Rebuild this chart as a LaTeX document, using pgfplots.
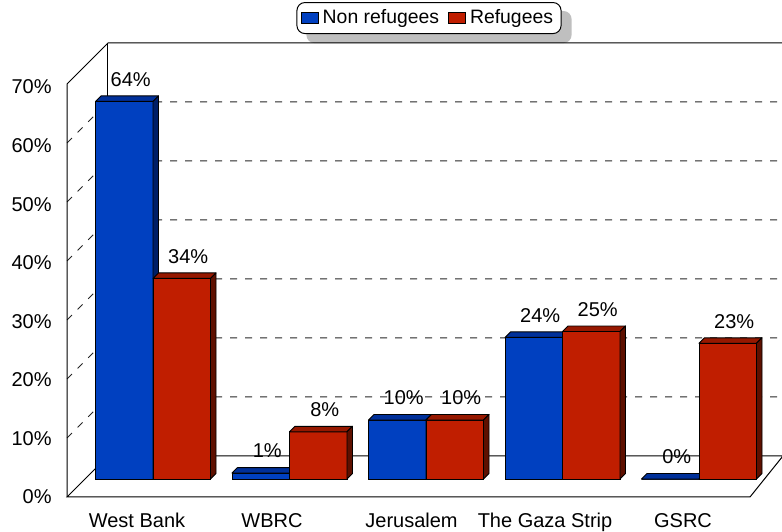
\documentclass[border=0pt]{standalone}
\usepackage{fontspec}
\setmainfont{Liberation Sans}
\usepackage{pgfplots}
\usepackage{pgfplotstable}
\pgfplotsset{compat=1.18}
\usetikzlibrary{backgrounds}

\definecolor{bfront}{HTML}{0040C0}
\definecolor{btop}{HTML}{00309A}
\definecolor{bside}{HTML}{001E66}
\definecolor{rfront}{HTML}{C01E00}
\definecolor{rtop}{HTML}{961800}
\definecolor{rside}{HTML}{5E1000}

\pgfdeclareplotmark{nothing}{}

% args: left edge (number, pt), value, front colour, top colour, side colour
\newcommand\barthreed[5]{%
  \pgfmathfloatparsenumber{#2}\pgfmathfloattofixed{\pgfmathresult}\edef\vv{\pgfmathresult}%
  \pgfmathsetmacro\yb{2.75-\vv*2.95}%
  \pgfmathsetmacro\yf{-\vv*2.95}%
  \pgfmathsetmacro\xl{#1}%
  \pgfmathsetmacro\xlb{#1+2.75}%
  \pgfmathsetmacro\xr{#1+28.75}%
  \pgfmathsetmacro\xrb{#1+31.5}%
  \path[fill=#3, draw=black, line width=0.45pt]
    (\xl pt,0pt) rectangle (\xr pt,\yf pt);
  \path[fill=#4, draw=black, line width=0.45pt, line join=round]
    (\xl pt,0pt) -- (\xlb pt,2.75pt) -- (\xrb pt,2.75pt) -- (\xr pt,0pt) -- cycle;
  \path[fill=#5, draw=black, line width=0.45pt, line join=round]
    (\xr pt,0pt) -- (\xrb pt,2.75pt) -- (\xrb pt,\yb pt) -- (\xr pt,\yf pt) -- cycle;
}

\pgfplotstableread{
x nonref ref
0 64 34
1 1 8
2 10 10
3 24 25
4 0 23
}\datatable

\begin{document}
\begin{tikzpicture}
\begin{axis}[
  scale only axis,
  width=391pt, height=265.5pt,
  xmin=-1.12088, xmax=4.60806,
  ymin=-8.8136, ymax=81.1864,
  clip=false,
  axis line style={draw=none},
  tick style={draw=none},
  major tick length=0pt,
  ytick={-3.05,6.88,16.80,26.73,36.66,46.59,56.51,66.44},
  yticklabels={0\%,10\%,20\%,30\%,40\%,50\%,60\%,70\%},
  yticklabel style={anchor=east, inner sep=0pt, xshift=26pt},
  xtick={-0.117,0.872,1.894,2.872,3.883},
  xticklabels={West Bank, WBRC, Jerusalem, The Gaza Strip, GSRC},
  xticklabel style={anchor=base, inner sep=0pt, yshift=2pt},
  legend columns=2,
  legend style={at={(0.5486,0.966)}, anchor=center, draw=black, name=leg,
    rounded corners=4pt, fill=white, line width=0.5pt,
    font=\fontsize{9.7}{11}\selectfont,
    inner xsep=2pt, inner ysep=1.5pt,
    /tikz/every even column/.append style={column sep=2.5pt}},
]
% walls and floor
\draw[black!85, line width=0.5pt, dash pattern=on 3.5pt off 4pt]
  (axis cs:-0.630,6.95) -- (axis cs:-0.3297,13.90) -- (axis cs:4.62,13.90);
\draw[black!85, line width=0.5pt, dash pattern=on 3.5pt off 4pt]
  (axis cs:-0.630,16.95) -- (axis cs:-0.3297,23.90) -- (axis cs:4.62,23.90);
\draw[black!85, line width=0.5pt, dash pattern=on 3.5pt off 4pt]
  (axis cs:-0.630,26.95) -- (axis cs:-0.3297,33.90) -- (axis cs:4.62,33.90);
\draw[black!85, line width=0.5pt, dash pattern=on 3.5pt off 4pt]
  (axis cs:-0.630,36.95) -- (axis cs:-0.3297,43.90) -- (axis cs:4.62,43.90);
\draw[black!85, line width=0.5pt, dash pattern=on 3.5pt off 4pt]
  (axis cs:-0.630,46.95) -- (axis cs:-0.3297,53.90) -- (axis cs:4.62,53.90);
\draw[black!85, line width=0.5pt, dash pattern=on 3.5pt off 4pt]
  (axis cs:-0.630,56.95) -- (axis cs:-0.3297,63.90) -- (axis cs:4.62,63.90);
\draw[black, line width=0.5pt]
  (axis cs:-0.630,-3.05) -- (axis cs:-0.630,66.95) -- (axis cs:-0.3297,73.90) -- (axis cs:4.62,73.90);
\draw[black, line width=0.5pt] (axis cs:-0.3297,3.90) -- (axis cs:-0.3297,73.90);
\draw[black, line width=0.5pt]
  (axis cs:-0.630,-3.05) -- (axis cs:4.3736,-3.05) -- (axis cs:4.615,3.90) -- (axis cs:-0.3297,3.90) -- cycle;

% Non refugees
\addplot[ybar, bar width=0.4212, bar shift=-0.21062, fill=bfront, draw=black, line width=0.45pt,
  legend image code/.code={\draw[fill=bfront, draw=black, line width=0.4pt, sharp corners] (0pt,-2.6pt) rectangle (8.5pt,2.6pt);},
  nodes near coords={\pgfmathprintnumber[assume math mode=true]{\pgfplotspointmeta}\%},
  every node near coord/.append style={anchor=center, yshift=11pt, xshift=-11.125pt, text=black, font=\fontsize{10}{12}\selectfont}]
  table[x=x, y=nonref]{\datatable};
\addlegendentry{Non refugees}
\addplot[forget plot, only marks, mark=nothing, scatter, point meta=y,
  visualization depends on={y \as \rawv},
  scatter/@pre marker code/.code={\barthreed{-28.75}{\rawv}{bfront}{btop}{bside}},
  scatter/@post marker code/.code={}]
  table[x=x, y=nonref]{\datatable};
% Refugees
\addplot[ybar, bar width=0.4212, bar shift=0.21062, fill=rfront, draw=black, line width=0.45pt,
  legend image code/.code={\draw[fill=rfront, draw=black, line width=0.4pt, sharp corners] (0pt,-2.6pt) rectangle (8.5pt,2.6pt);},
  nodes near coords={\pgfmathprintnumber[assume math mode=true]{\pgfplotspointmeta}\%},
  every node near coord/.append style={anchor=center, yshift=11pt, xshift=17.625pt, text=black, font=\fontsize{10}{12}\selectfont}]
  table[x=x, y=ref]{\datatable};
\addlegendentry{Refugees}
\addplot[forget plot, only marks, mark=nothing, scatter, point meta=y,
  visualization depends on={y \as \rawv},
  scatter/@pre marker code/.code={\barthreed{0}{\rawv}{rfront}{rtop}{rside}},
  scatter/@post marker code/.code={}]
  table[x=x, y=ref]{\datatable};
\end{axis}
\begin{scope}[on background layer]
\fill[black!25, rounded corners=4pt] ([xshift=5pt,yshift=-4.5pt]leg.south west) rectangle ([xshift=5pt,yshift=-4.5pt]leg.north east);
\end{scope}
\pgfresetboundingbox
\path[use as bounding box] (current axis.south west) rectangle (current axis.north east);
\end{tikzpicture}
\end{document}
